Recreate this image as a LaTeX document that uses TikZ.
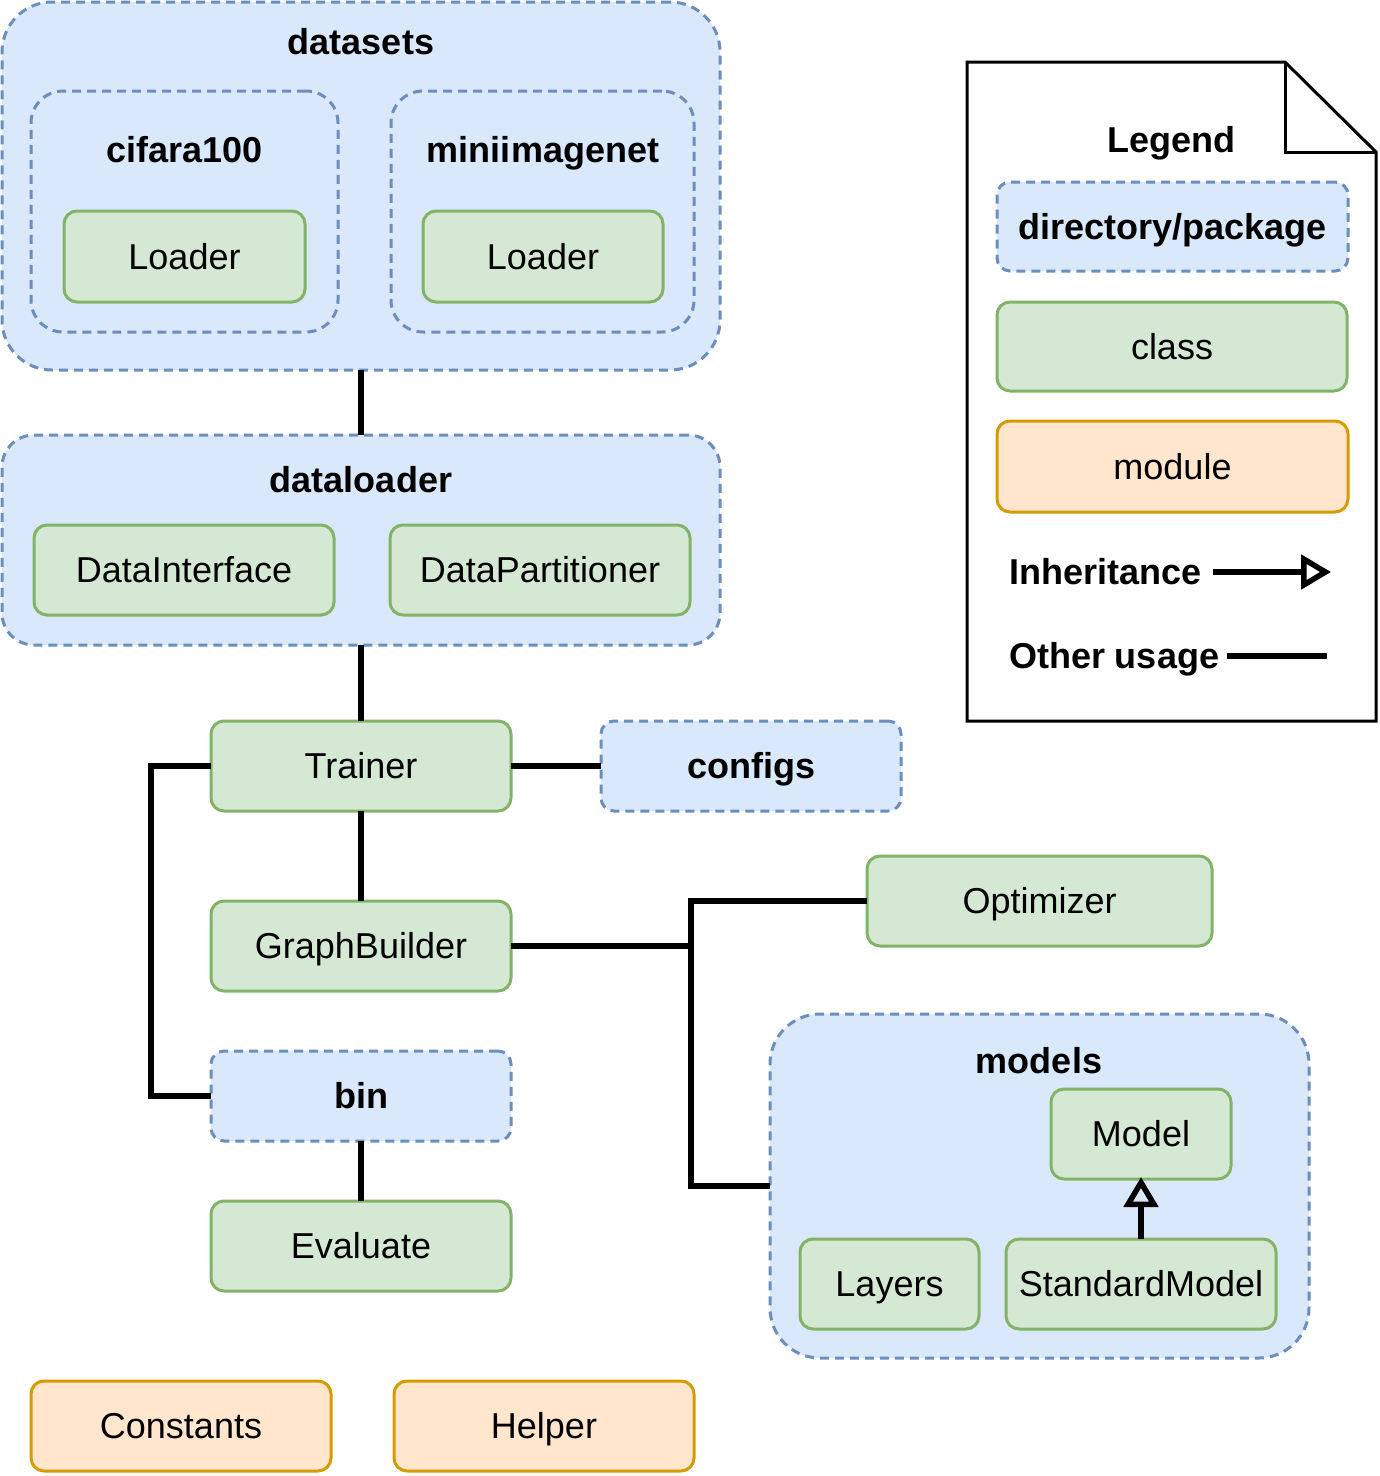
\documentclass[tikz,border=0pt]{standalone}
\usepackage{fontspec}
\setmainfont{Liberation Sans}
\usetikzlibrary{arrows.meta}
\definecolor{pkgf}{HTML}{DAE8FC}
\definecolor{pkgd}{HTML}{6C8EBF}
\definecolor{clsf}{HTML}{D5E8D4}
\definecolor{clsd}{HTML}{82B366}
\definecolor{modf}{HTML}{FFE6CC}
\definecolor{modd}{HTML}{D79B00}
\begin{document}
\begin{tikzpicture}[x=1pt,y=-1pt,
 every node/.style={font=\fontsize{36}{42}\selectfont, inner sep=0pt, outer sep=0pt, text height=33pt, text depth=7.5pt},
 box/.style={rectangle, minimum width=300pt, minimum height=90pt, line width=3pt, rounded corners=13pt},
 pkg/.style={box, draw=pkgd, fill=pkgf, dash pattern=on 9pt off 6pt, font=\fontsize{36}{42}\selectfont\bfseries},
 cls/.style={box, draw=clsd, fill=clsf},
 modl/.style={box, draw=modd, fill=modf},
 cont/.style={rectangle, draw=pkgd, fill=pkgf, line width=3pt, dash pattern=on 9pt off 6pt},
 ttl/.style={font=\fontsize{36}{42}\selectfont\bfseries},
 conn/.style={line width=5.5pt, draw=black},
 inh/.style={conn, -{Triangle[open, length=30pt, width=34pt]}},
]
\useasboundingbox (0,0) rectangle (1380,1476);
\fill[white] (0,0) rectangle (1380,1476);

% legend document
\draw[line width=3pt, line join=miter] (967,62) -- (1285,62) -- (1376,152) -- (1376,721) -- (967,721) -- cycle;
\draw[line width=3pt, line join=miter] (1285,62) -- (1285,152) -- (1376,152);
\node[ttl] (legendt) at (1171,140) {Legend};
\node[pkg, minimum width=351pt, minimum height=89pt] (lgpkg) at (1172.5,226.5) {directory/package};
\node[cls, minimum width=350pt, minimum height=89pt] (lgcls) at (1172,346.5) {class};
\node[modl, minimum width=351pt, minimum height=91pt] (lgmod) at (1172.5,466.5) {module};
\node[ttl, anchor=west] (lginh) at (1009,572) {Inheritance};
\node[ttl, anchor=west] (lgoth) at (1009,656) {Other usage};
\coordinate (inhA) at (1213,572);
\coordinate (inhB) at (1331,572);
\coordinate (othA) at (1227,656);
\coordinate (othB) at (1327,656);
\draw[inh] (inhA) -- (inhB);
\draw[conn] (othA) -- (othB);

% datasets
\node[cont, minimum width=718pt, minimum height=368pt, rounded corners=50pt] (datasets) at (361,186) {};
\node[ttl] (datasetst) at (361,42) {datasets};
\node[cont, minimum width=307pt, minimum height=241pt, rounded corners=32pt] (cifar) at (184.5,211.5) {};
\node[ttl] (cifart) at (184.5,150) {cifara100};
\node[cls, minimum width=241pt, minimum height=91pt] (loader1) at (184.5,256.5) {Loader};
\node[cont, minimum width=303pt, minimum height=241pt, rounded corners=32pt] (mini) at (542.5,211.5) {};
\node[ttl] (minit) at (543,150) {miniimagenet};
\node[cls, minimum width=240pt, minimum height=91pt] (loader2) at (543,256.5) {Loader};

% dataloader
\node[cont, minimum width=718pt, minimum height=210pt, rounded corners=32pt] (dataloader) at (361,540) {};
\node[ttl] (dataloadert) at (361,480) {dataloader};
\node[cls] (dinter) at (184,570) {DataInterface};
\node[cls] (dpart) at (540,570) {DataPartitioner};

% main column
\node[cls] (trainer) at (361,766) {Trainer};
\node[pkg] (configs) at (751,766) {configs};
\node[cls] (graph) at (361,946) {GraphBuilder};
\node[pkg] (bin) at (361,1096) {bin};
\node[cls] (eval) at (361,1246) {Evaluate};
\node[modl] (const) at (181,1426) {Constants};
\node[modl] (helper) at (544,1426) {Helper};

% right side
\node[cls, minimum width=345pt] (optim) at (1039.5,901) {Optimizer};
\node[cont, minimum width=539pt, minimum height=344pt, rounded corners=50pt] (models) at (1039.5,1186) {};
\node[ttl] (modelst) at (1039,1061) {models};
\node[cls, minimum width=180pt] (model) at (1141,1134) {Model};
\node[cls, minimum width=179pt] (layers) at (889.5,1284) {Layers};
\node[cls, minimum width=270pt] (stdmodel) at (1141,1284) {StandardModel};

% connectors
\draw[conn] (datasets.south) -- (dataloader.north);
\draw[conn] (dataloader.south) -- (trainer.north);
\draw[conn] (trainer.east) -- (configs.west);
\draw[conn] (trainer.south) -- (graph.north);
\draw[conn] (trainer.west) -- ++(-60,0) |- (bin.west);
\draw[conn] (bin.south) -- (eval.north);
\coordinate (junc) at (691,946);
\draw[conn] (graph.east) -- (junc);
\draw[conn] (junc) |- (optim.west);
\draw[conn] (junc) |- (models.west);
\draw[inh] (stdmodel.north) -- ([yshift=2pt]model.south);
\end{tikzpicture}
\end{document}
